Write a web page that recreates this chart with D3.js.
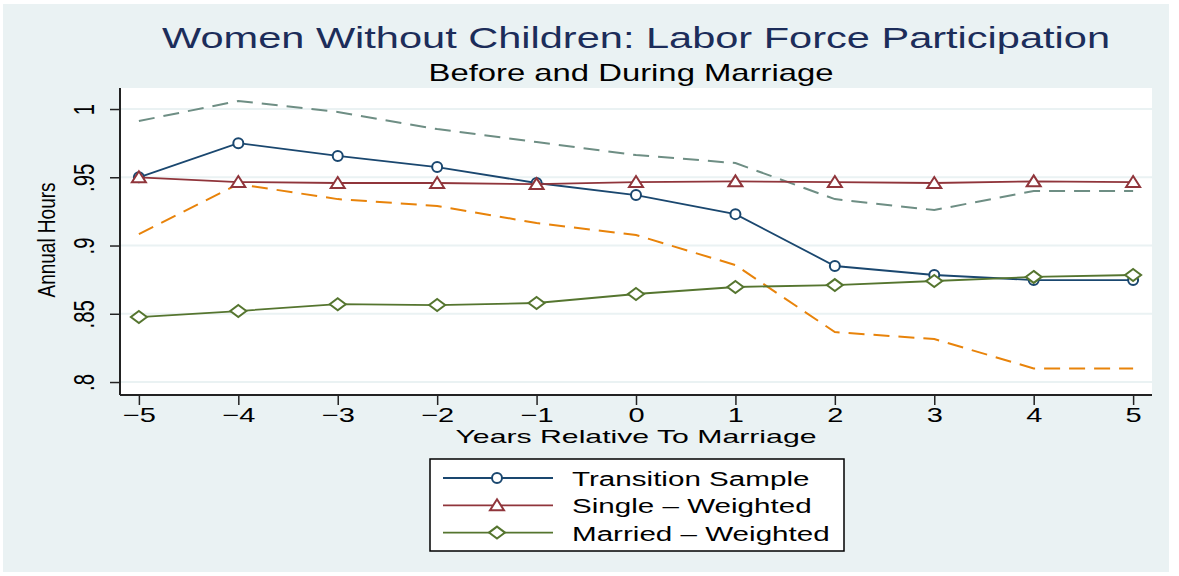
<!DOCTYPE html>
<html>
<head>
<meta charset="utf-8">
<script src="https://cdn.jsdelivr.net/npm/d3@7"></script>
<style>
  body { margin: 0; background: #fff; }
  text { font-family: "Liberation Sans", Arial, sans-serif; }
</style>
</head>
<body>
<svg id="chart" width="1179" height="576"></svg>
<script>
const years = [-5, -4, -3, -2, -1, 0, 1, 2, 3, 4, 5];
const transition = [0.950, 0.975, 0.9656, 0.9575, 0.9458, 0.937, 0.923, 0.885, 0.8784, 0.8747, 0.8747];
const single = [0.950, 0.9465, 0.9458, 0.9458, 0.945, 0.9465, 0.947, 0.9465, 0.9458, 0.947, 0.9465];
const married = [0.8476, 0.852, 0.857, 0.8564, 0.8579, 0.8645, 0.8696, 0.871, 0.874, 0.877, 0.8784];
const upperBand = [0.9912, 1.0059, 0.9978, 0.9853, 0.9758, 0.9663, 0.9604, 0.934, 0.926, 0.94, 0.94];
const lowerBand = [0.9084, 0.945, 0.934, 0.929, 0.9165, 0.9077, 0.8857, 0.8366, 0.8315, 0.810, 0.810];
const yTicks = [0.8, 0.85, 0.9, 0.95, 1];
const yTickLabels = ['.8', '.85', '.9', '.95', '1'];

const svg = d3.select('#chart');

// outer background
svg.append('rect').attr('x', 3).attr('y', 4).attr('width', 1166).attr('height', 568).attr('fill', '#eaf2f3');

const plot = { left: 120, right: 1152, top: 88, bottom: 395 };

const x = d3.scaleLinear().domain([-5.19, 5.19]).range([plot.left, plot.right]);
const y = d3.scaleLinear().domain([0.7905, 1.0154]).range([plot.bottom, plot.top]);

svg.append('rect').attr('x', plot.left).attr('y', plot.top)
  .attr('width', plot.right - plot.left).attr('height', plot.bottom - plot.top).attr('fill', '#fff');

// gridlines
svg.append('g').selectAll('line').data(yTicks).join('line')
  .attr('x1', plot.left).attr('x2', plot.right)
  .attr('y1', d => y(d)).attr('y2', d => y(d))
  .attr('stroke', '#eaf2f3').attr('stroke-width', 2);

// titles
svg.append('text').attr('x', 636).attr('y', 48).attr('text-anchor', 'middle')
  .attr('font-size', 30).attr('fill', '#1c2d5a')
  .attr('textLength', 948).attr('lengthAdjust', 'spacingAndGlyphs')
  .text('Women Without Children: Labor Force Participation');
svg.append('text').attr('x', 631).attr('y', 81).attr('text-anchor', 'middle')
  .attr('font-size', 24).attr('fill', '#000')
  .attr('textLength', 405).attr('lengthAdjust', 'spacingAndGlyphs')
  .text('Before and During Marriage');

// y axis (labels are rotated like Stata's vertical tick labels)
const yAxis = d3.axisLeft(y).tickValues(yTicks).tickSize(10).tickFormat((d, i) => yTickLabels[i]);
const gy = svg.append('g').attr('transform', `translate(${plot.left},0)`).call(yAxis);
gy.select('.domain').attr('stroke', '#222').attr('stroke-width', 2).attr('d', `M0,${plot.top}V${plot.bottom}`);
gy.selectAll('.tick line').attr('stroke', '#222').attr('stroke-width', 1.5);
gy.selectAll('.tick text')
  .attr('font-size', 30).attr('fill', '#000')
  .attr('x', 0).attr('y', 0).attr('dy', 0)
  .attr('transform', 'translate(-26,0) rotate(-90) scale(0.68,1)')
  .attr('text-anchor', 'middle');

svg.append('text')
  .attr('transform', 'translate(55,240) rotate(-90)')
  .attr('text-anchor', 'middle').attr('font-size', 23)
  .attr('textLength', 115).attr('lengthAdjust', 'spacingAndGlyphs')
  .text('Annual Hours');

// x axis
const xAxis = d3.axisBottom(x).tickValues(years).tickSize(10).tickFormat(d => d < 0 ? '\u2212' + Math.abs(d) : d);
const gx = svg.append('g').attr('transform', `translate(0,${plot.bottom})`).call(xAxis);
gx.select('.domain').attr('stroke', '#222').attr('stroke-width', 2).attr('d', `M${plot.left},0H${plot.right}`);
gx.selectAll('.tick line').attr('stroke', '#222').attr('stroke-width', 1.5);
gx.selectAll('.tick text').attr('font-size', 20).attr('fill', '#000')
  .attr('x', 0).attr('y', 0).attr('dy', 0)
  .attr('transform', 'translate(0,27) scale(1.45,1)');

svg.append('text').attr('x', 636).attr('y', 443).attr('text-anchor', 'middle')
  .attr('font-size', 19).attr('textLength', 361).attr('lengthAdjust', 'spacingAndGlyphs')
  .text('Years Relative To Marriage');

// lines
const line = d3.line().x((d, i) => x(years[i])).y(d => y(d));

svg.append('path').datum(upperBand).attr('d', line).attr('fill', 'none')
  .attr('stroke', '#6e8e84').attr('stroke-width', 2).attr('stroke-dasharray', '16,9');
svg.append('path').datum(lowerBand).attr('d', line).attr('fill', 'none')
  .attr('stroke', '#e8830a').attr('stroke-width', 2).attr('stroke-dasharray', '16,9');

const series = [
  { name: 'Transition Sample', values: transition, color: '#1a476f', marker: 'circle' },
  { name: 'Single \u2013 Weighted', values: single, color: '#90353b', marker: 'triangle' },
  { name: 'Married \u2013 Weighted', values: married, color: '#55752f', marker: 'diamond' },
];

function drawMarker(g, type, cx, cy, color) {
  if (type === 'circle') {
    g.append('circle').attr('cx', cx).attr('cy', cy).attr('r', 5)
      .attr('fill', '#fff').attr('stroke', color).attr('stroke-width', 2);
  } else if (type === 'triangle') {
    g.append('path').attr('d', `M${cx},${cy - 6}L${cx + 7},${cy + 5}L${cx - 7},${cy + 5}Z`)
      .attr('fill', '#fff').attr('stroke', color).attr('stroke-width', 2);
  } else {
    g.append('path').attr('d', `M${cx},${cy - 6}L${cx + 8},${cy}L${cx},${cy + 6}L${cx - 8},${cy}Z`)
      .attr('fill', '#fff').attr('stroke', color).attr('stroke-width', 2);
  }
}

series.forEach(s => {
  svg.append('path').datum(s.values).attr('d', line).attr('fill', 'none')
    .attr('stroke', s.color).attr('stroke-width', 1.8);
  const g = svg.append('g');
  s.values.forEach((v, i) => drawMarker(g, s.marker, x(years[i]), y(v), s.color));
});

// legend
const lg = svg.append('g');
lg.append('rect').attr('x', 430).attr('y', 459).attr('width', 414).attr('height', 92)
  .attr('fill', '#fff').attr('stroke', '#000').attr('stroke-width', 1.5);
series.forEach((s, i) => {
  const ly = 478 + i * 27.3;
  lg.append('line').attr('x1', 443).attr('x2', 553).attr('y1', ly).attr('y2', ly)
    .attr('stroke', s.color).attr('stroke-width', 1.8);
  drawMarker(lg, s.marker, 497, ly, s.color);
  lg.append('text').attr('transform', `translate(572,${ly + 8}) scale(1.41,1)`)
    .attr('font-size', 21).text(s.name);
});
</script>
</body>
</html>
